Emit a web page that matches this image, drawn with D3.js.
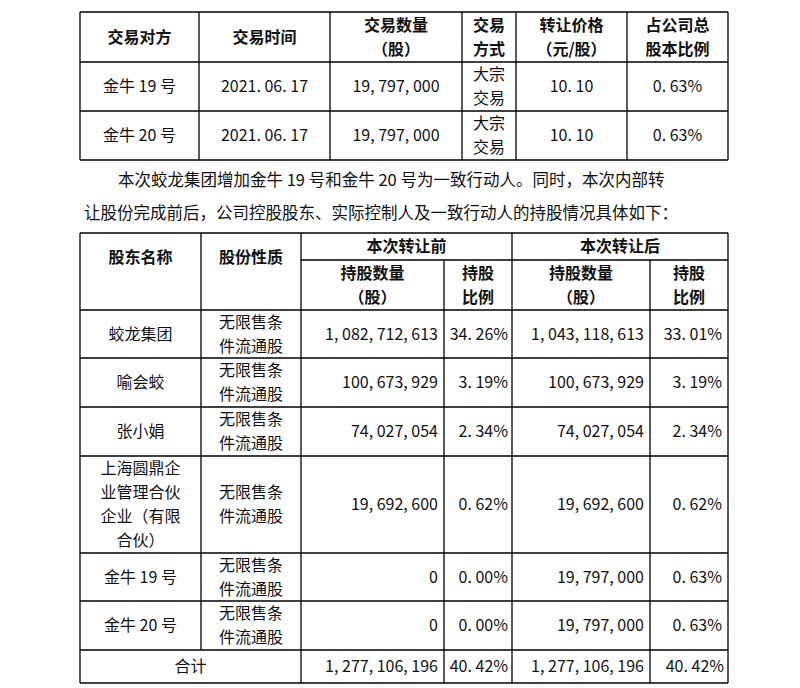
<!DOCTYPE html><html><head><meta charset="utf-8"><script src="https://cdn.jsdelivr.net/npm/d3@7"></script>
<style>body{margin:0;background:#fff}text{font-family:"Noto Sans CJK SC","DejaVu Serif",serif;fill:#111}</style></head><body><svg id="s" width="800" height="688"></svg><script>
const t1Head=[["交易对方"],["交易时间"],["交易数量","（股）"],["交易","方式"],["转让价格","（元/股）"],["占公司总","股本比例"]];
const t1Rows=[[["金牛 19 号"],["2021. 06. 17"],["19, 797, 000"],["大宗","交易"],["10. 10"],["0. 63%"]],
 [["金牛 20 号"],["2021. 06. 17"],["19, 797, 000"],["大宗","交易"],["10. 10"],["0. 63%"]]];
const paraLines=["本次蛟龙集团增加金牛 19 号和金牛 20 号为一致行动人。同时，本次内部转","让股份完成前后，公司控股股东、实际控制人及一致行动人的持股情况具体如下："];
const holders=[["蛟龙集团"],["喻会蛟"],["张小娟"],["上海圆鼎企","业管理合伙","企业（有限","合伙）"],["金牛 19 号"],["金牛 20 号"]];
const beforeShares=["1, 082, 712, 613","100, 673, 929","74, 027, 054","19, 692, 600","0","0"];
const beforePct=["34. 26%","3. 19%","2. 34%","0. 62%","0. 00%","0. 00%"];
const afterShares=["1, 043, 118, 613","100, 673, 929","74, 027, 054","19, 692, 600","19, 797, 000","19, 797, 000"];
const afterPct=["33. 01%","3. 19%","2. 34%","0. 62%","0. 63%","0. 63%"];
const totals=["1, 277, 106, 196","40. 42%","1, 277, 106, 196","40. 42%"];
const svg=d3.select("#s");
const fs=16;
function lines(lst,x,y0,y1,anchor,bold){const lh=fs*1.5;const n=lst.length;const cy=(y0+y1)/2;
 lst.forEach((s,i)=>svg.append("text").attr("x",x).attr("y",cy+(i-(n-1)/2)*lh).attr("dy","0.36em").attr("text-anchor",anchor).attr("font-size",fs).attr("font-weight",bold?700:400).text(s));}
function line(x1,y1,x2,y2){svg.append("line").attr("x1",x1).attr("y1",y1).attr("x2",x2).attr("y2",y2).attr("stroke","#000").attr("stroke-width",1.3);}
const c1=[80,199,330,462,516,627,728];const r1=[12,62,111,160];
r1.forEach(y=>line(c1[0],y,c1[6],y));c1.forEach(x=>line(x,r1[0],x,r1[3]));
t1Head.forEach((h,i)=>lines(h,(c1[i]+c1[i+1])/2,r1[0],r1[1],"middle",true));
t1Rows.forEach((row,j)=>row.forEach((h,i)=>lines(h,(c1[i]+c1[i+1])/2,r1[j+1],r1[j+2],"middle",false)));
svg.append("text").attr("x",118).attr("y",186).attr("font-size",16.5).text(paraLines[0]);
svg.append("text").attr("x",84).attr("y",219).attr("font-size",16.5).text(paraLines[1]);
const c2=[80,201,301,444,512,650,728];
const r2=[233,260,310,358,407,456,553,601,650,683];
line(c2[0],r2[0],c2[6],r2[0]);line(c2[2],r2[1],c2[6],r2[1]);
r2.slice(2).forEach(y=>line(c2[0],y,c2[6],y));
c2.forEach((x,i)=>{if(i===3||i===5)line(x,r2[1],x,r2[9]);else if(i===1)line(x,r2[0],x,r2[8]);else line(x,r2[0],x,r2[9]);});
lines(["股东名称"],(c2[0]+c2[1])/2,r2[0],r2[1]+22,"middle",true);
lines(["股份性质"],(c2[1]+c2[2])/2,r2[0],r2[1]+22,"middle",true);
lines(["本次转让前"],(c2[2]+c2[4])/2,r2[0],r2[1],"middle",true);
lines(["本次转让后"],(c2[4]+c2[6])/2,r2[0],r2[1],"middle",true);
[["持股数量","（股）"],["持股","比例"],["持股数量","（股）"],["持股","比例"]].forEach((h,i)=>lines(h,(c2[i+2]+c2[i+3])/2,r2[1],r2[2],"middle",true));
holders.forEach((h,j)=>{const y0=r2[j+2],y1=r2[j+3];
 lines(h,(c2[0]+c2[1])/2,y0,y1,"middle",false);
 lines(["无限售条","件流通股"],(c2[1]+c2[2])/2,y0,y1,"middle",false);
 lines([beforeShares[j]],c2[3]-6,y0,y1,"end",false);
 lines([beforePct[j]],c2[4]-4,y0,y1,"end",false);
 lines([afterShares[j]],c2[5]-6,y0,y1,"end",false);
 lines([afterPct[j]],c2[6]-6,y0,y1,"end",false);});
lines(["合计"],(c2[0]+c2[2])/2,r2[8],r2[9],"middle",false);
[3,4,5,6].forEach((c,i)=>lines([totals[i]],c2[c]-(i%2?4:6),r2[8],r2[9],"end",false));
</script></body></html>
